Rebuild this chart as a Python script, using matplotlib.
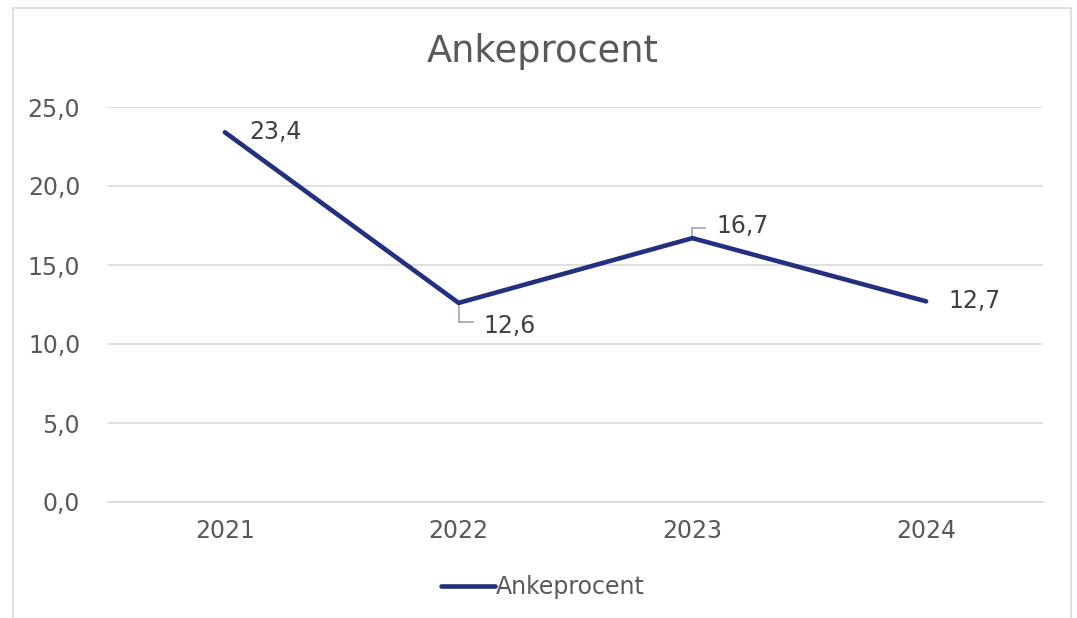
import matplotlib
matplotlib.use("Agg")
import matplotlib.pyplot as plt
from matplotlib.patches import Rectangle

# data
years = ['2021', '2022', '2023', '2024']
ankeprocent = [23.4, 12.6, 16.7, 12.7]
labels = ['23,4', '12,6', '16,7', '12,7']
yticks = [0, 5, 10, 15, 20, 25]

navy = '#22307f'
grey_txt = '#595959'
grid_col = '#d9d9d9'

plt.rcParams['font.family'] = ['DejaVu Sans']

fig = plt.figure(figsize=(10.77, 6.18), dpi=100)
W, H = 1077, 618
ax = fig.add_axes([108 / W, 1 - 502 / H, (1043 - 108) / W, (502 - 107) / H])

# chart border (Excel style)
fig.patches.append(Rectangle((13 / W, -0.01), (1071 - 13) / W, 1 - 8 / H + 0.01,
                             transform=fig.transFigure, fill=False,
                             edgecolor='#d9d9d9', linewidth=1.2))

x = list(range(len(years)))
ax.plot(x, ankeprocent, color=navy, linewidth=3.3, solid_capstyle='round',
        label='Ankeprocent', zorder=3)

ax.set_xlim(-0.5, 3.5)
ax.set_ylim(0, 25)
ax.set_yticks(yticks)
ax.set_yticklabels(['%d,0' % v for v in yticks])
ax.set_xticks(x)
ax.set_xticklabels(years)
ax.grid(axis='y', color=grid_col, linewidth=1.2)
ax.set_axisbelow(True)
for s in ['top', 'left', 'right']:
    ax.spines[s].set_visible(False)
ax.spines['bottom'].set_color(grid_col)
ax.spines['bottom'].set_linewidth(1.2)
ax.tick_params(length=0, labelsize=17, labelcolor=grey_txt)
ax.tick_params(axis='y', pad=20)
ax.tick_params(axis='x', pad=12)

lbl_col = '#404040'
px = 0.72  # points per pixel
# plain labels right of points
ax.annotate(labels[0], (0, ankeprocent[0]), xytext=(24 * px, 0), textcoords='offset points',
            va='center', ha='left', fontsize=17, color=lbl_col)
ax.annotate(labels[3], (3, ankeprocent[3]), xytext=(22 * px, 0), textcoords='offset points',
            va='center', ha='left', fontsize=17, color=lbl_col)
# labels with leader lines
ax.annotate(labels[1], (1, ankeprocent[1]), xytext=(25 * px, -23 * px), textcoords='offset points',
            va='center', ha='left', fontsize=17, color=lbl_col)
ax.annotate(labels[2], (2, ankeprocent[2]), xytext=(24 * px, 12 * px), textcoords='offset points',
            va='center', ha='left', fontsize=17, color=lbl_col)
lead = '#a6a6a6'
ax.plot([1, 1], [ankeprocent[1] - 0.2, ankeprocent[1] - 1.2], color=lead, lw=1.2, zorder=2)
ax.plot([1, 1.06], [ankeprocent[1] - 1.2, ankeprocent[1] - 1.2], color=lead, lw=1.2, zorder=2)
ax.plot([2, 2], [ankeprocent[2], ankeprocent[2] + 0.65], color=lead, lw=1.2, zorder=2)
ax.plot([2, 2.055], [ankeprocent[2] + 0.65, ankeprocent[2] + 0.65], color=lead, lw=1.2, zorder=2)

fig.text(543 / W, 1 - 52 / H, 'Ankeprocent', ha='center', va='center',
         fontsize=26.5, color=grey_txt)

leg = fig.legend(loc='center', bbox_to_anchor=(543 / W, 1 - 587 / H), frameon=False,
                 fontsize=17, handlelength=2.3, handletextpad=0.05)
for t in leg.get_texts():
    t.set_color(grey_txt)

fig.savefig('out.png', dpi=100)
